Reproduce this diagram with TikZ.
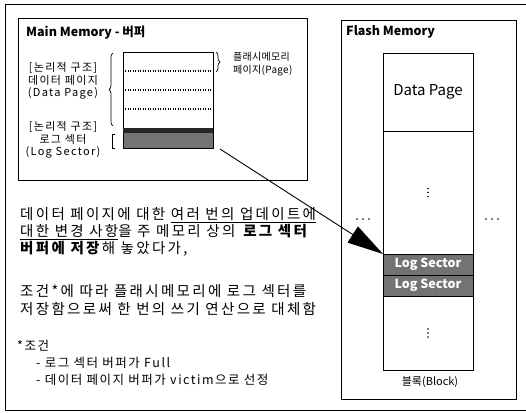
\documentclass[tikz,border=0pt]{standalone}
\usepackage{fontspec}
\setmainfont{Noto Sans CJK KR}
\usetikzlibrary{arrows.meta,decorations.pathreplacing,calc}
\begin{document}
\begin{tikzpicture}[x=1pt,y=-1pt,
  frame/.style={draw=black,line width=1pt},
  cell/.style={draw=black,line width=1pt,minimum width=90pt,inner sep=0pt,outer sep=0pt},
  dotline/.style={line width=1.2pt,dash pattern=on 0.9pt off 1.6pt},
  lbl/.style={font=\fontsize{11}{12.2}\selectfont\addfontfeature{LetterSpace=12},align=center,inner sep=0pt},
  plbl/.style={font=\fontsize{10}{13}\selectfont\addfontfeature{LetterSpace=3},align=left,inner sep=0pt},
  body/.style={font=\fontsize{14.5}{15}\selectfont\addfontfeature{LetterSpace=16},anchor=west,inner sep=0pt},
  small/.style={font=\fontsize{12.5}{13}\selectfont\addfontfeature{LetterSpace=12},anchor=west,inner sep=0pt},
  title/.style={font=\bfseries\fontsize{12.5}{13}\selectfont,anchor=west,inner sep=0pt}]
\useasboundingbox (0,0) rectangle (526,412);
% outer frame (right side out of view)
\draw[line width=1pt] (530,5) -- (5,5) -- (5,410) -- (530,410);
% Main memory box
\node[frame,minimum width=289pt,minimum height=162pt,inner sep=0pt,anchor=north west] (mm) at (18,18) {};
\node[title] (mmtitle) at (26,33) {Main Memory - 버퍼};
% buffer
\node[cell,minimum height=76pt,anchor=north west] (bufdata) at (123,52) {};
\node[cell,minimum height=20pt,anchor=north west,fill=black!55] (buflog) at (123,128) {};
\fill[black!85] (123,128) rectangle (213,133);
\foreach \yy in {71,90,109} \draw[dotline] (125,\yy) -- (211,\yy);
% braces
\draw[line width=0.7pt,decorate,decoration={brace,amplitude=4pt}] (113,126) -- (113,53);
\draw[line width=0.7pt] (115,134) -- (112,134) -- (112,148) -- (115,148);
\draw[line width=0.7pt,decorate,decoration={brace,amplitude=4pt}] (216,52) -- (216,72);
\node[plbl,anchor=west] (pagelbl) at (233,64) {플래시메모리\\페이지(Page)};
\node[lbl] (dplbl) at (63,81) {[논리적 구조]\\데이터 페이지\\(Data Page)};
\node[lbl] (lslbl) at (63,140) {[논리적 구조]\\로그 섹터\\(Log Sector)};
% Flash memory box
\node[frame,minimum width=175pt,minimum height=379pt,inner sep=0pt,anchor=north west] (fm) at (341,20) {};
\node[title] (fmtitle) at (346,32) {Flash Memory};
\node[cell,minimum height=78pt,anchor=north west,font=\fontsize{15}{16}\selectfont] (fdp) at (383,53) {Data Page};
\node[cell,minimum height=123pt,anchor=north west] (fmid1) at (383,131) {};
\node[cell,minimum height=21pt,anchor=north west,fill=black!55,text=white,font=\bfseries\fontsize{12.5}{13}\selectfont] (fls1) at (383,254) {Log Sector};
\node[cell,minimum height=21pt,anchor=north west,fill=black!55,text=white,font=\bfseries\fontsize{12.5}{13}\selectfont] (fls2) at (383,275) {Log Sector};
\node[cell,minimum height=74pt,anchor=north west] (fmid2) at (383,296) {};
\foreach \c in {fmid1,fmid2}
  \foreach \d in {-4,0,4} \fill ($(\c.center)+(0,\d)$) circle (0.8pt);
\foreach \xx in {357,363,369} \fill (\xx,219) circle (0.8pt);
\foreach \xx in {486,492,498} \fill (\xx,219) circle (0.8pt);
\node[lbl,anchor=north,font=\fontsize{11}{12}\selectfont] (blk) at (430,376) {블록(Block)};
% arrow
\draw[line width=0.9pt,-{Triangle[length=36pt,width=19pt]}] ($(buflog.south east)+(7,1)$) -- (fls1.north west);
% body text
\node[body] (t1) at (20,215) {데이터 페이지에 대한 \underline{여러 번의 업데이트에}};
\node[body] (t2) at (20,232) {\underline{대한 변경 사항}을 주 메모리 상의 \textbf{로그 섹터}};
\node[body] (t3) at (20,249) {\textbf{버퍼에 저장}해 놓았다가,};
\node[body] (t4) at (20,291) {조건*에 따라 플래시메모리에 로그 섹터를};
\node[body] (t5) at (20,309) {저장함으로써 한 번의 쓰기 연산으로 대체함};
\node[small] (c0) at (17,346) {*조건};
\node[small] (c1) at (36,363) {- 로그 섹터 버퍼가 Full};
\node[small] (c2) at (36,380) {- 데이터 페이지 버퍼가 victim으로 선정};
\end{tikzpicture}
\end{document}
